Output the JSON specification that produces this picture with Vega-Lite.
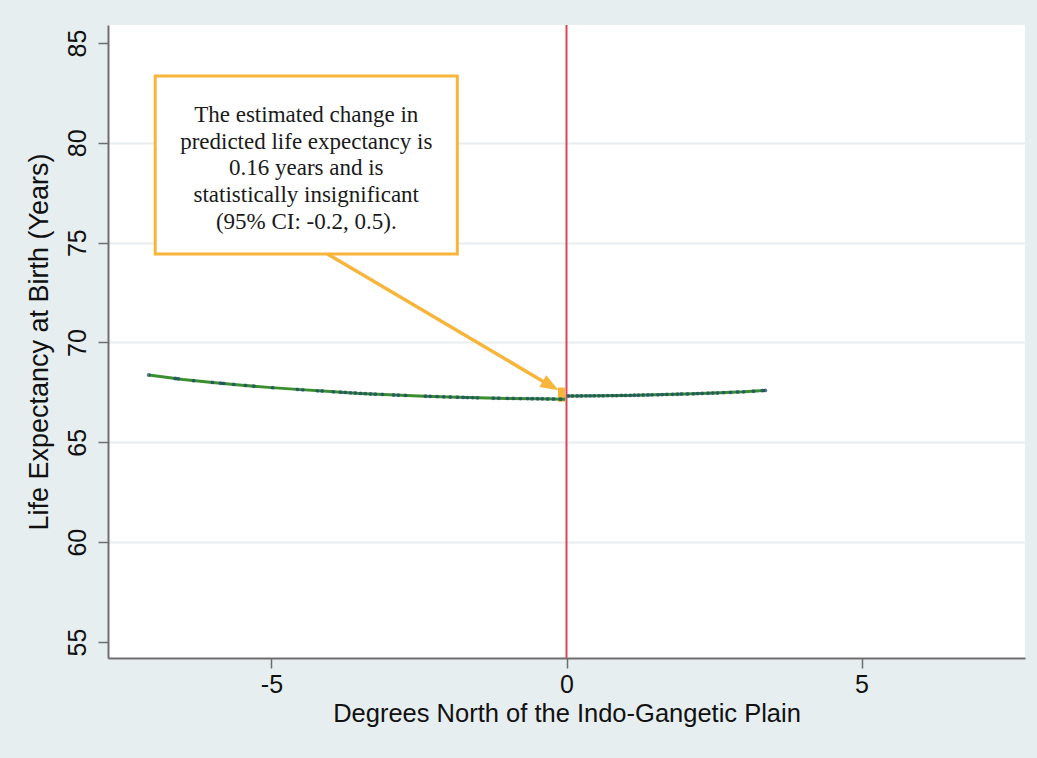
{
  "$schema": "https://vega.github.io/schema/vega-lite/v6.json",
  "width": 917,
  "height": 633,
  "autosize": {"type": "none"},
  "padding": {"left": 108, "top": 25, "right": 12, "bottom": 100},
  "background": "#e6eeef",
  "config": {
    "view": {"fill": "white", "stroke": null},
    "font": "Liberation Sans",
    "axis": {
      "domainColor": "#6e6e6e",
      "domainWidth": 2,
      "tickColor": "#6e6e6e",
      "tickWidth": 1.5,
      "tickSize": 10,
      "labelFont": "Liberation Sans",
      "labelFontSize": 25,
      "labelColor": "#111",
      "titleFont": "Liberation Sans",
      "titleFontWeight": "normal",
      "titleColor": "#111"
    }
  },
  "datasets": {
    "fit": [
      {"x": -7.08, "y": 68.37, "side": "left"},
      {"x": -6.5, "y": 68.15, "side": "left"},
      {"x": -6.0, "y": 68.0, "side": "left"},
      {"x": -5.5, "y": 67.86, "side": "left"},
      {"x": -5.0, "y": 67.74, "side": "left"},
      {"x": -4.5, "y": 67.64, "side": "left"},
      {"x": -4.0, "y": 67.54, "side": "left"},
      {"x": -3.5, "y": 67.45, "side": "left"},
      {"x": -3.0, "y": 67.38, "side": "left"},
      {"x": -2.5, "y": 67.32, "side": "left"},
      {"x": -2.0, "y": 67.27, "side": "left"},
      {"x": -1.5, "y": 67.23, "side": "left"},
      {"x": -1.0, "y": 67.2, "side": "left"},
      {"x": -0.5, "y": 67.18, "side": "left"},
      {"x": -0.02, "y": 67.16, "side": "left"},
      {"x": 0.02, "y": 67.32, "side": "right"},
      {"x": 0.5, "y": 67.33, "side": "right"},
      {"x": 1.0, "y": 67.35, "side": "right"},
      {"x": 1.5, "y": 67.38, "side": "right"},
      {"x": 2.0, "y": 67.42, "side": "right"},
      {"x": 2.5, "y": 67.47, "side": "right"},
      {"x": 3.0, "y": 67.53, "side": "right"},
      {"x": 3.37, "y": 67.6, "side": "right"}
    ],
    "dots": [
      {"x": -7.08, "y": 68.37}, {"x": -6.63, "y": 68.2}, {"x": -6.58, "y": 68.18}, {"x": -6.32, "y": 68.09},
      {"x": -6.0, "y": 68.0}, {"x": -5.86, "y": 67.96}, {"x": -5.81, "y": 67.95}, {"x": -5.64, "y": 67.9},
      {"x": -5.44, "y": 67.85}, {"x": -5.3, "y": 67.81}, {"x": -4.98, "y": 67.74}, {"x": -4.56, "y": 67.65},
      {"x": -4.47, "y": 67.63}, {"x": -4.22, "y": 67.58}, {"x": -4.14, "y": 67.57}, {"x": -3.95, "y": 67.53},
      {"x": -3.83, "y": 67.51}, {"x": -3.75, "y": 67.5}, {"x": -3.66, "y": 67.48}, {"x": -3.58, "y": 67.47},
      {"x": -3.49, "y": 67.45}, {"x": -3.41, "y": 67.44}, {"x": -3.32, "y": 67.42}, {"x": -3.24, "y": 67.41},
      {"x": -3.12, "y": 67.4}, {"x": -2.93, "y": 67.37}, {"x": -2.85, "y": 67.36}, {"x": -2.73, "y": 67.35},
      {"x": -2.39, "y": 67.31}, {"x": -2.31, "y": 67.3}, {"x": -2.19, "y": 67.29}, {"x": -2.08, "y": 67.28},
      {"x": -1.97, "y": 67.27}, {"x": -1.85, "y": 67.26}, {"x": -1.75, "y": 67.25}, {"x": -1.68, "y": 67.24},
      {"x": -1.59, "y": 67.24}, {"x": -1.51, "y": 67.23}, {"x": -1.24, "y": 67.21}, {"x": -1.15, "y": 67.21},
      {"x": -1.0, "y": 67.2}, {"x": -0.9, "y": 67.2}, {"x": -0.78, "y": 67.19}, {"x": -0.66, "y": 67.19},
      {"x": -0.58, "y": 67.18}, {"x": -0.49, "y": 67.18}, {"x": -0.41, "y": 67.18}, {"x": -0.32, "y": 67.17},
      {"x": -0.22, "y": 67.17}, {"x": -0.1, "y": 67.16},
      {"x": 0.03, "y": 67.32}, {"x": 0.1, "y": 67.32}, {"x": 0.18, "y": 67.32}, {"x": 0.25, "y": 67.32},
      {"x": 0.33, "y": 67.33}, {"x": 0.4, "y": 67.33}, {"x": 0.47, "y": 67.33}, {"x": 0.55, "y": 67.33},
      {"x": 0.62, "y": 67.33}, {"x": 0.7, "y": 67.34}, {"x": 0.78, "y": 67.34}, {"x": 0.85, "y": 67.34},
      {"x": 0.93, "y": 67.35}, {"x": 1.0, "y": 67.35}, {"x": 1.08, "y": 67.35}, {"x": 1.15, "y": 67.36},
      {"x": 1.22, "y": 67.36}, {"x": 1.3, "y": 67.37}, {"x": 1.38, "y": 67.37}, {"x": 1.45, "y": 67.38},
      {"x": 1.55, "y": 67.38}, {"x": 1.62, "y": 67.39}, {"x": 1.7, "y": 67.4}, {"x": 1.8, "y": 67.4},
      {"x": 1.88, "y": 67.41}, {"x": 1.95, "y": 67.42}, {"x": 2.05, "y": 67.42}, {"x": 2.15, "y": 67.43},
      {"x": 2.22, "y": 67.44}, {"x": 2.3, "y": 67.45}, {"x": 2.4, "y": 67.46}, {"x": 2.48, "y": 67.47},
      {"x": 2.56, "y": 67.47}, {"x": 2.66, "y": 67.49}, {"x": 2.78, "y": 67.5}, {"x": 2.9, "y": 67.52},
      {"x": 3.0, "y": 67.53}, {"x": 3.17, "y": 67.56}, {"x": 3.32, "y": 67.59}, {"x": 3.37, "y": 67.6}
    ],
    "box": [{"x1": -6.97, "x2": -1.85, "y1": 74.43, "y2": 83.34}],
    "arrow": [{"x1": -4.05, "y1": 74.43, "x2": -0.36, "y2": 67.99}],
    "head": [{"x": -0.268, "y": 67.84}],
    "blob": [{"x": -0.085, "y": 67.39}],
    "note": [{"x": -4.41, "y": 81.39, "text": "The estimated change in\npredicted life expectancy is\n0.16 years and is\nstatistically insignificant\n(95% CI: -0.2, 0.5)."}],
    "cut": [{"x": 0}]
  },
  "encoding": {
    "x": {
      "field": "x", "type": "quantitative",
      "scale": {"domain": [-7.77, 7.77], "nice": false, "zero": false},
      "axis": {"values": [-5, 0, 5], "labelExpr": "'' + datum.value", "grid": false, "title": "Degrees North of the Indo-Gangetic Plain", "titleFontSize": 25.5, "labelPadding": 4, "titlePadding": 4, "labelFlush": false}
    },
    "y": {
      "field": "y", "type": "quantitative",
      "scale": {"domain": [54.2, 85.9], "nice": false, "zero": false},
      "axis": {
        "values": [55, 60, 65, 70, 75, 80, 85],
        "grid": true,
        "gridColor": {"condition": {"test": "datum.value == 55 || datum.value == 85", "value": "transparent"}, "value": "#e6eeef"},
        "gridWidth": 2,
        "labelAngle": -90, "labelAlign": "center", "labelBaseline": "bottom", "labelPadding": 8,
        "labelFlush": false,
        "title": "Life Expectancy at Birth (Years)", "titleFontSize": 27, "titlePadding": 12
      }
    }
  },
  "layer": [
    {
      "data": {"name": "cut"},
      "mark": {"type": "rule", "color": "#d9475c", "strokeWidth": 2},
      "encoding": {"x": {"field": "x", "type": "quantitative"}, "y": null}
    },
    {
      "data": {"name": "box"},
      "mark": {"type": "rect", "fill": "white", "stroke": "#f7b53b", "strokeWidth": 3},
      "encoding": {"x": {"field": "x1", "type": "quantitative"}, "x2": {"field": "x2"}, "y": {"field": "y1", "type": "quantitative"}, "y2": {"field": "y2"}}
    },
    {
      "data": {"name": "note"},
      "mark": {"type": "text", "font": "Liberation Serif", "fontSize": 23, "lineHeight": 26.7, "lineBreak": "\n", "align": "center", "baseline": "middle", "color": "#1a1a1a"},
      "encoding": {"text": {"field": "text", "type": "nominal"}}
    },
    {
      "data": {"name": "arrow"},
      "mark": {"type": "rule", "color": "#f7b53b", "strokeWidth": 3.5},
      "encoding": {"x": {"field": "x1", "type": "quantitative"}, "y": {"field": "y1", "type": "quantitative"}, "x2": {"field": "x2"}, "y2": {"field": "y2"}}
    },
    {
      "data": {"name": "head"},
      "mark": {"type": "point", "shape": "M1,0L-1,-0.75L-1,0.75Z", "filled": true, "color": "#f7b53b", "opacity": 1, "size": 330, "angle": 30},
      "encoding": {}
    },
    {
      "data": {"name": "blob"},
      "mark": {"type": "point", "shape": "M-0.5,-1L0.5,-1L0.5,1L-0.5,1Z", "filled": true, "color": "#f7b53b", "opacity": 1, "size": 200},
      "encoding": {}
    },
    {
      "data": {"name": "fit"},
      "mark": {"type": "line", "color": "#3b8f2f", "strokeWidth": 3},
      "encoding": {"detail": {"field": "side", "type": "nominal"}}
    },
    {
      "data": {"name": "dots"},
      "mark": {"type": "point", "shape": "circle", "filled": true, "color": "#1a476f", "opacity": 0.7, "size": 15},
      "encoding": {}
    }
  ]
}
